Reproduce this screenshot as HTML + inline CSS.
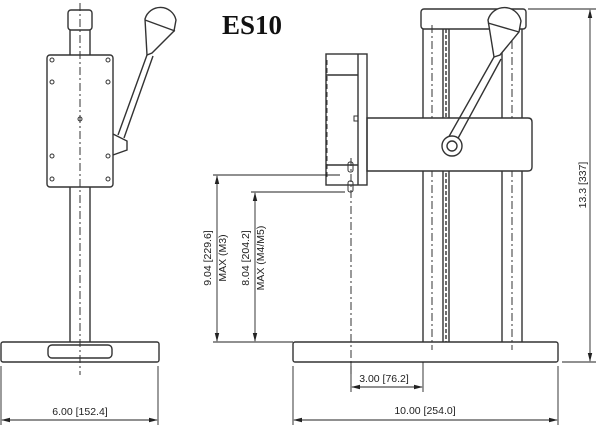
<!DOCTYPE html>
<html><head><style>body{margin:0;background:#fff}svg{display:block}</style></head><body>
<svg width="600" height="433" viewBox="0 0 600 433" xmlns="http://www.w3.org/2000/svg" font-family="Liberation Sans, sans-serif">
<defs><marker id="a" markerWidth="10" markerHeight="6" refX="9" refY="3" orient="auto-start-reverse"><path d="M0,0.5L10,3L0,5.5z" fill="#222"/></marker></defs>
<g fill="none" stroke="#333" stroke-width="1.4">
<!-- left view -->
<rect x="68" y="10" width="24" height="20" rx="3"/>
<line x1="70" y1="30" x2="70" y2="55"/><line x1="90" y1="30" x2="90" y2="55"/>
<line x1="70" y1="187" x2="70" y2="342"/><line x1="90" y1="187" x2="90" y2="342"/>
<rect x="47" y="55" width="66" height="132" rx="3"/>
<g stroke-width="1"><circle cx="52" cy="60" r="2"/><circle cx="108" cy="60" r="2"/><circle cx="52" cy="82" r="2"/><circle cx="108" cy="82" r="2"/><circle cx="52" cy="156" r="2"/><circle cx="108" cy="156" r="2"/><circle cx="52" cy="179" r="2"/><circle cx="108" cy="179" r="2"/><circle cx="80" cy="119" r="2"/></g>
<path d="M145,19 A16,16 0 0 1 176,20 L174,31 L152,53 L147,55 Z"/>
<line x1="145" y1="20" x2="175" y2="31"/>
<path d="M147,55 L118,135 M153,56 L124,138"/>
<path d="M113,134 L127,141 L127,150 L113,155"/>
<rect x="1" y="342" width="158" height="20" rx="2"/>
<rect x="48" y="345" width="64" height="13" rx="4"/>
<line x1="80" y1="3" x2="80" y2="375" stroke-dasharray="8,3,2,3" stroke-width="1"/>
<!-- right view -->
<rect x="421" y="9" width="105" height="20" rx="3"/>
<line x1="423" y1="29" x2="423" y2="342"/><line x1="443" y1="29" x2="443" y2="342"/>
<line x1="449" y1="29" x2="449" y2="342"/>
<line x1="502" y1="29" x2="502" y2="342"/><line x1="522" y1="29" x2="522" y2="342"/>
<line x1="446" y1="29" x2="446" y2="342" stroke-dasharray="4,2"/>
<line x1="432" y1="25" x2="432" y2="350" stroke-dasharray="8,3,2,3" stroke-width="1"/>
<line x1="512" y1="25" x2="512" y2="350" stroke-dasharray="8,3,2,3" stroke-width="1"/>
<path d="M367,118 L528,118 Q532,118 532,122 L532,167 Q532,171 528,171 L367,171 Z" fill="#fff"/>
<rect x="326" y="54" width="41" height="131"/>
<line x1="358" y1="54" x2="358" y2="185"/>
<line x1="326" y1="75" x2="358" y2="75"/>
<line x1="326" y1="165" x2="358" y2="165"/>
<rect x="354" y="116" width="4" height="5" stroke-width="1"/>
<line x1="327" y1="60" x2="327" y2="180" stroke-dasharray="5,3" stroke-width="1"/>
<rect x="348" y="162" width="5" height="10" rx="2" stroke-width="1"/>
<rect x="348" y="181" width="5" height="11" rx="2" stroke-width="1"/>
<line x1="351" y1="158" x2="351" y2="375" stroke-dasharray="8,3,2,3" stroke-width="1"/>
<path d="M488,20 A17,17 0 0 1 521,21 L519,32 L500,55 L494,57 Z" fill="#fff"/>
<line x1="488" y1="23" x2="519" y2="32"/>
<path d="M494,57 L447,140 M501,59 L456,142"/>
<circle cx="452" cy="146" r="10" fill="#fff"/><circle cx="452" cy="146" r="5"/>
<rect x="293" y="342" width="265" height="20" rx="2"/>
</g>
<!-- dimensions -->
<g stroke="#222" stroke-width="0.9" fill="none">
<line x1="1" y1="366" x2="1" y2="425"/><line x1="158" y1="366" x2="158" y2="425"/>
<line x1="2" y1="420" x2="157" y2="420" marker-start="url(#a)" marker-end="url(#a)"/>
<line x1="213" y1="175" x2="340" y2="175"/><line x1="213" y1="342" x2="293" y2="342"/>
<line x1="217" y1="176" x2="217" y2="341" marker-start="url(#a)" marker-end="url(#a)"/>
<line x1="251" y1="192" x2="345" y2="192"/>
<line x1="255" y1="193" x2="255" y2="341" marker-start="url(#a)" marker-end="url(#a)"/>
<line x1="351" y1="362" x2="351" y2="392"/><line x1="423" y1="362" x2="423" y2="392"/>
<line x1="352" y1="387" x2="422" y2="387" marker-start="url(#a)" marker-end="url(#a)"/>
<line x1="293" y1="366" x2="293" y2="425"/><line x1="558" y1="366" x2="558" y2="425"/>
<line x1="294" y1="420" x2="557" y2="420" marker-start="url(#a)" marker-end="url(#a)"/>
<line x1="528" y1="9" x2="596" y2="9"/><line x1="562" y1="362" x2="596" y2="362"/>
<line x1="590" y1="10" x2="590" y2="361" marker-start="url(#a)" marker-end="url(#a)"/>
</g>
<g font-size="10.5" fill="#222" text-anchor="middle">
<text x="80" y="415">6.00 [152.4]</text>
<text x="384" y="382">3.00 [76.2]</text>
<text x="425" y="414">10.00 [254.0]</text>
<text transform="translate(211,258) rotate(-90)">9.04 [229.6]</text>
<text transform="translate(226,258) rotate(-90)">MAX (M3)</text>
<text transform="translate(249,258) rotate(-90)">8.04 [204.2]</text>
<text transform="translate(264,258) rotate(-90)">MAX (M4/M5)</text>
<text transform="translate(586,185) rotate(-90)">13.3 [337]</text>
</g>
<text x="222" y="34" font-family="Liberation Serif, serif" font-weight="bold" font-size="27" fill="#111">ES10</text>
</svg>
</body></html>
